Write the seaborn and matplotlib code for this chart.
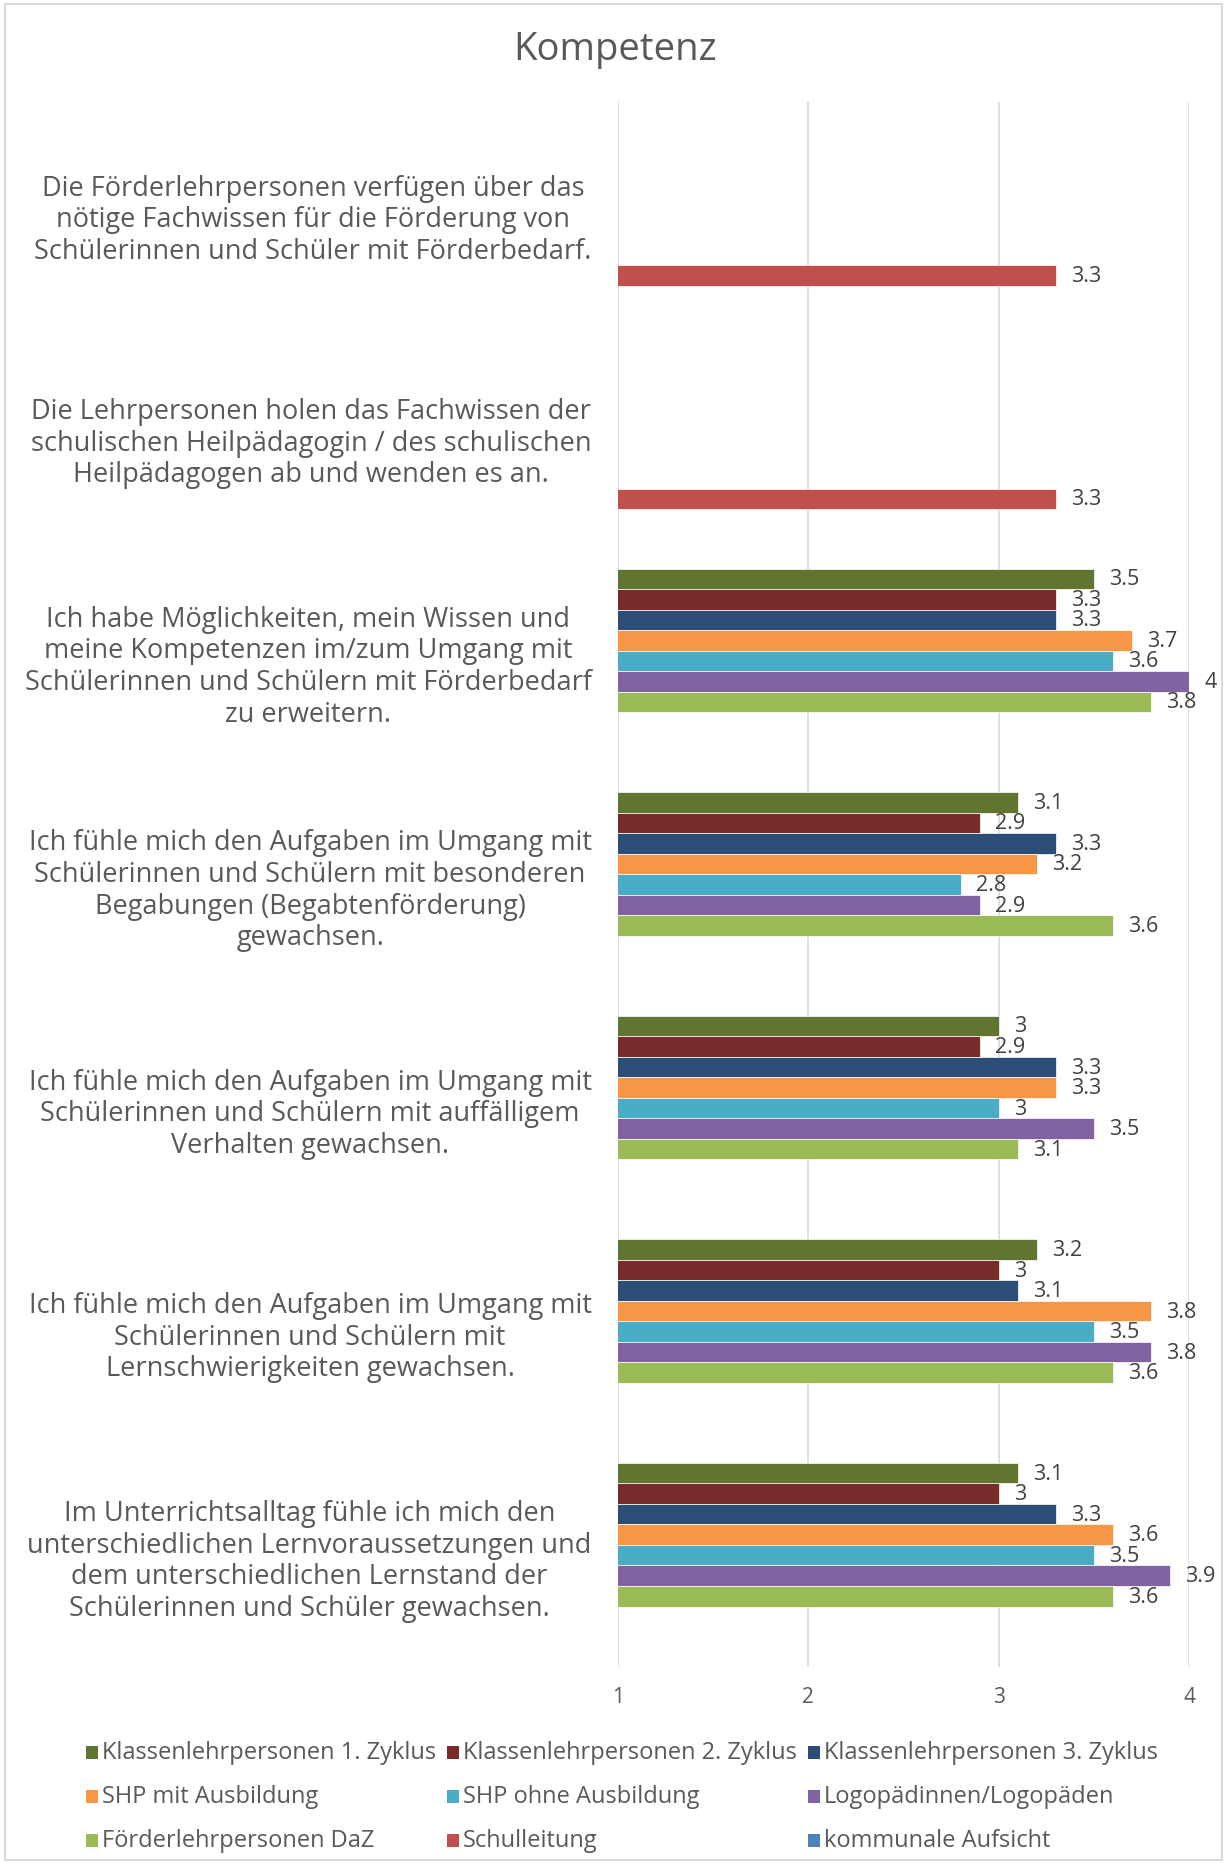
import numpy as np
import pandas as pd
import matplotlib
matplotlib.use("Agg")
import matplotlib.pyplot as plt
from matplotlib.patches import Rectangle
import seaborn as sns

categories = [
    "Die Förderlehrpersonen verfügen über das\nnötige Fachwissen für die Förderung von\nSchülerinnen und Schüler mit Förderbedarf.",
    "Die Lehrpersonen holen das Fachwissen der\nschulischen Heilpädagogin / des schulischen\nHeilpädagogen ab und wenden es an.",
    "Ich habe Möglichkeiten, mein Wissen und\nmeine Kompetenzen im/zum Umgang mit\nSchülerinnen und Schülern mit Förderbedarf\nzu erweitern.",
    "Ich fühle mich den Aufgaben im Umgang mit\nSchülerinnen und Schülern mit besonderen\nBegabungen (Begabtenförderung)\ngewachsen.",
    "Ich fühle mich den Aufgaben im Umgang mit\nSchülerinnen und Schülern mit auffälligem\nVerhalten gewachsen.",
    "Ich fühle mich den Aufgaben im Umgang mit\nSchülerinnen und Schülern mit\nLernschwierigkeiten gewachsen.",
    "Im Unterrichtsalltag fühle ich mich den\nunterschiedlichen Lernvoraussetzungen und\ndem unterschiedlichen Lernstand der\nSchülerinnen und Schüler gewachsen.",
]

series = [
    "Klassenlehrpersonen 1. Zyklus",
    "Klassenlehrpersonen 2. Zyklus",
    "Klassenlehrpersonen 3. Zyklus",
    "SHP mit Ausbildung",
    "SHP ohne Ausbildung",
    "Logopädinnen/Logopäden",
    "Förderlehrpersonen DaZ",
    "Schulleitung",
    "kommunale Aufsicht",
]

nan = np.nan
kl1 = [nan, nan, 3.5, 3.1, 3.0, 3.2, 3.1]
kl2 = [nan, nan, 3.3, 2.9, 2.9, 3.0, 3.0]
kl3 = [nan, nan, 3.3, 3.3, 3.3, 3.1, 3.3]
shp_mit = [nan, nan, 3.7, 3.2, 3.3, 3.8, 3.6]
shp_ohne = [nan, nan, 3.6, 2.8, 3.0, 3.5, 3.5]
logo = [nan, nan, 4.0, 2.9, 3.5, 3.8, 3.9]
daz = [nan, nan, 3.8, 3.6, 3.1, 3.6, 3.6]
schulleitung = [3.3, 3.3, nan, nan, nan, nan, nan]
kommunal = [nan, nan, nan, nan, nan, nan, nan]

colors = ["#617531", "#772C2A", "#2C4D75", "#F79646", "#4BACC6",
          "#8064A2", "#9BBB59", "#C0504D", "#4F81BD"]

all_values = [kl1, kl2, kl3, shp_mit, shp_ohne, logo, daz, schulleitung, kommunal]
rows = []
for s, vals in zip(series, all_values):
    for c, v in zip(categories, vals):
        if not np.isnan(v):
            rows.append({"Kategorie": c, "Gruppe": s, "Wert": v})
df = pd.DataFrame(rows)

sns.set_theme(style="white")
FONT = ["Open Sans", "DejaVu Sans"]
plt.rcParams["font.family"] = FONT
TXT = "#595959"

W, H = 1227, 1865
fig = plt.figure(figsize=(W / 100, H / 100), dpi=100)
ax = fig.add_axes([618 / W, 1 - 1668 / H, (1189 - 618) / W, (1668 - 103) / H])

palette = dict(zip(series, colors))
sns.barplot(data=df, x="Wert", y="Kategorie", hue="Gruppe", order=categories,
            hue_order=series, palette=palette, orient="h", width=0.826,
            dodge=True, errorbar=None, saturation=1, legend=False, ax=ax,
            edgecolor="white", linewidth=0.5)

ax.set_xlim(1, 4)
ax.set_ylim(len(categories) - 0.5, -0.5)
ax.set_xticks([1, 2, 3, 4])
ax.set_xticklabels(["1", "2", "3", "4"])
ax.xaxis.grid(True, color="#D9D9D9", linewidth=1.2)
ax.yaxis.grid(False)
ax.set_axisbelow(True)
for sp in ax.spines.values():
    sp.set_visible(False)
ax.set_xlabel("")
ax.set_ylabel("")
ax.tick_params(axis="x", length=0, pad=14, labelsize=15, labelcolor=TXT)
ax.tick_params(axis="y", length=0, pad=19, labelsize=19.5, labelcolor=TXT)
for lab in ax.get_yticklabels():
    lab.set_multialignment("center")
    lab.set_linespacing(1.17)

for cont in ax.containers:
    vals = cont.datavalues
    ax.bar_label(cont, labels=[f"{v:g}" for v in vals], padding=11,
                 fontsize=15.5, color="#404040")

fig.text(615 / W, 1 - 50 / H, "Kompetenz", ha="center", va="center",
         fontsize=27.5, color=TXT)

# legend
col_x = [86, 447, 808]
row_y = [1753, 1797, 1841]
for i, (s, c) in enumerate(zip(series, colors)):
    r, k = divmod(i, 3)
    x0, y0 = col_x[k], row_y[r]
    fig.patches.append(Rectangle((x0 / W, 1 - (y0 + 7) / H), 12 / W, 13 / H,
                                 transform=fig.transFigure, facecolor=c,
                                 edgecolor="none"))
    fig.text((x0 + 16) / W, 1 - y0 / H, s, ha="left", va="center",
             fontsize=17, color=TXT)

fig.patches.append(Rectangle((5 / W, 4 / H), (W - 10) / W, (H - 9) / H,
                             transform=fig.transFigure, facecolor="none",
                             edgecolor="#D9D9D9", linewidth=1.5))

fig.savefig("out.png", dpi=100, facecolor="white")
